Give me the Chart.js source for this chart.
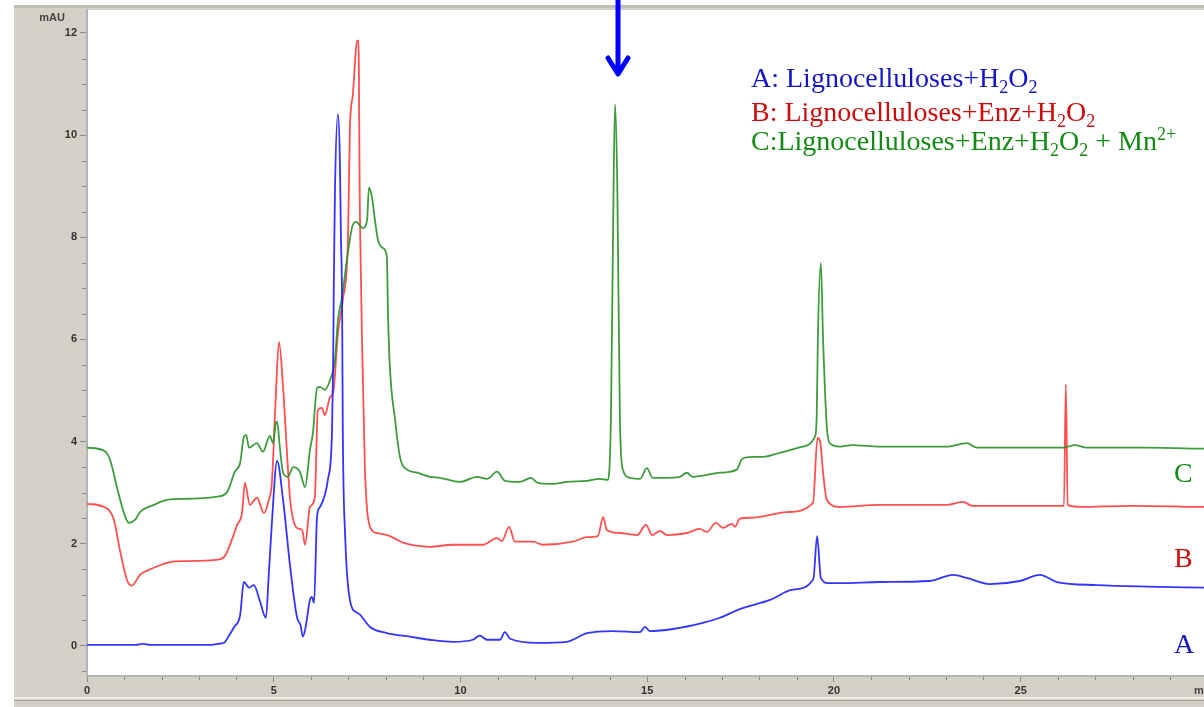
<!DOCTYPE html>
<html>
<head>
<meta charset="utf-8">
<script src="https://cdn.jsdelivr.net/npm/chart.js@4/dist/chart.umd.min.js"></script>
<style>
  html, body { margin: 0; padding: 0; background: #fff; }
  #wrap { position: relative; width: 1204px; height: 707px; overflow: hidden; }
  canvas { display: block; }
</style>
</head>
<body>
<div id="wrap"><canvas id="c" width="1204" height="707"></canvas></div>
<script>
// ---- data (time in min, absorbance in mAU) ----
const seriesA = [[0,0.02],[1.3,0.02],[1.5,0.04],[1.7,0.02],[3.3,0.02],[3.5,0.04],[3.67,0.06],[3.8,0.2],[3.94,0.37],[4.1,0.6],[4.2,1.25],[4.34,1.14],[4.47,1.19],[4.62,0.9],[4.79,0.55],[4.87,1.43],[4.95,2.4],[5.09,3.62],[5.25,2.86],[5.44,1.55],[5.62,0.57],[5.72,0.4],[5.78,0.18],[5.85,0.35],[5.97,0.9],[6.02,0.96],[6.08,0.84],[6.16,2.53],[6.24,2.72],[6.45,3.25],[6.56,4.17],[6.59,5.46],[6.61,7.17],[6.64,8.93],[6.72,10.41],[6.77,9.57],[6.8,8.0],[6.83,6.77],[6.85,4.17],[6.91,2.21],[7.04,0.9],[7.23,0.65],[7.31,0.61],[7.58,0.37],[8.03,0.25],[8.65,0.18],[9.18,0.12],[9.8,0.08],[10.33,0.12],[10.52,0.2],[10.71,0.12],[11.06,0.12],[11.19,0.27],[11.33,0.14],[12.05,0.06],[12.85,0.08],[13.39,0.25],[14.08,0.29],[14.81,0.27],[14.94,0.37],[15.07,0.29],[15.69,0.33],[16.49,0.45],[16.95,0.55],[17.48,0.72],[18.29,0.9],[18.9,1.1],[19.45,1.31],[19.55,2.15],[19.65,1.33],[19.84,1.23],[20.16,1.23],[21.23,1.25],[22.57,1.27],[23.19,1.39],[23.56,1.33],[24.18,1.21],[24.98,1.27],[25.52,1.39],[25.97,1.25],[27.04,1.19],[28.38,1.16],[29.91,1.14]];

const seriesB = [[0,2.78],[0.46,2.72],[0.72,2.47],[0.88,1.88],[1.07,1.29],[1.2,1.18],[1.42,1.39],[1.79,1.53],[2.22,1.64],[2.68,1.66],[3.4,1.68],[3.67,1.74],[3.88,2.08],[4.02,2.37],[4.15,2.6],[4.23,3.19],[4.36,2.76],[4.55,2.9],[4.74,2.6],[4.87,2.86],[4.95,3.19],[5.05,4.8],[5.14,5.95],[5.25,5.07],[5.35,3.84],[5.44,2.86],[5.62,2.31],[5.76,2.27],[5.84,1.98],[5.97,2.72],[6.1,2.9],[6.18,4.62],[6.29,4.66],[6.37,4.52],[6.51,4.87],[6.59,4.95],[6.72,6.13],[6.85,6.77],[6.99,8.0],[7.04,10.16],[7.12,10.8],[7.18,11.47],[7.23,11.85],[7.27,11.85],[7.28,11.3],[7.3,8.99],[7.34,7.03],[7.36,6.13],[7.44,3.5],[7.58,2.33],[7.76,2.21],[8.03,2.17],[8.17,2.13],[8.46,2.02],[9.18,1.94],[9.8,1.98],[10.6,1.98],[10.98,2.11],[11.11,2.05],[11.3,2.33],[11.46,2.04],[11.94,2.04],[12.21,1.98],[13.01,2.04],[13.39,2.13],[13.68,2.15],[13.82,2.52],[13.92,2.27],[14.27,2.21],[14.73,2.17],[14.97,2.37],[15.13,2.17],[15.34,2.25],[15.53,2.17],[16.06,2.21],[16.41,2.29],[16.6,2.23],[16.84,2.41],[17.03,2.31],[17.27,2.39],[17.35,2.33],[17.48,2.49],[17.83,2.51],[18.74,2.62],[19.44,2.8],[19.56,4.07],[19.63,4.0],[19.71,3.39],[19.81,2.86],[20.16,2.72],[21.23,2.76],[23.03,2.76],[23.45,2.82],[23.72,2.74],[26.16,2.74],[26.21,5.12],[26.26,2.76],[26.59,2.72],[27.93,2.74],[29.91,2.72]];

const seriesC = [[0,3.88],[0.46,3.82],[0.62,3.64],[0.8,3.11],[0.99,2.6],[1.12,2.41],[1.29,2.47],[1.42,2.62],[1.79,2.76],[2.14,2.86],[2.68,2.88],[3.48,2.92],[3.75,3.01],[3.96,3.41],[4.1,3.58],[4.2,4.09],[4.26,4.13],[4.34,3.88],[4.55,3.97],[4.71,3.8],[4.9,4.11],[4.98,3.97],[5.06,4.37],[5.09,4.39],[5.17,3.84],[5.25,3.39],[5.38,3.31],[5.52,3.5],[5.7,3.41],[5.84,3.11],[5.97,3.84],[6.05,4.17],[6.16,5.05],[6.24,5.07],[6.37,5.01],[6.51,5.21],[6.64,5.6],[6.72,6.38],[6.83,6.83],[6.96,7.56],[7.1,8.2],[7.2,8.3],[7.39,8.18],[7.5,8.34],[7.55,8.97],[7.63,8.79],[7.71,8.34],[7.79,7.95],[7.92,7.79],[8.03,7.62],[8.06,6.5],[8.11,5.46],[8.25,4.42],[8.38,3.7],[8.57,3.45],[8.84,3.39],[9.18,3.31],[9.45,3.29],[9.99,3.21],[10.44,3.31],[10.71,3.27],[10.98,3.41],[11.19,3.23],[11.59,3.21],[11.89,3.29],[12.07,3.19],[12.48,3.17],[12.85,3.21],[13.39,3.23],[13.73,3.27],[13.95,3.25],[14.03,4.5],[14.1,9.0],[14.14,10.6],[14.2,9.0],[14.27,4.42],[14.35,3.45],[14.54,3.29],[14.81,3.27],[14.99,3.48],[15.15,3.29],[15.42,3.29],[15.88,3.31],[16.06,3.39],[16.22,3.31],[16.95,3.39],[17.4,3.45],[17.54,3.66],[17.83,3.7],[18.1,3.7],[18.55,3.78],[19.17,3.9],[19.49,4.09],[19.54,4.5],[19.57,6.0],[19.65,7.5],[19.71,6.0],[19.81,4.29],[19.89,3.97],[20.16,3.9],[20.48,3.93],[21.23,3.9],[23.03,3.9],[23.56,3.97],[23.83,3.88],[26.13,3.88],[26.45,3.93],[26.77,3.88],[28.38,3.88],[29.91,3.86]];

const yTickValues = [0, 2, 4, 6, 8, 10, 12];
const yMinorValues = [-0.5, 0.5, 1, 1.5, 2.5, 3, 3.5, 4.5, 5, 5.5, 6.5, 7, 7.5, 8.5, 9, 9.5, 10.5, 11, 11.5];
const xTickValues = [0, 5, 10, 15, 20, 25];
const xMinorValues = [1,2,3,4,6,7,8,9,11,12,13,14,16,17,18,19,21,22,23,24,26,27,28,29];
const yUnit = 'mAU';
const xUnit = 'min';
const legendLines = [
  { color: '#1515c8', parts: [['A: Lignocelluloses+H','n'],['2','sub'],['O','n'],['2','sub']] },
  { color: '#cc0c0c', parts: [['B: Lignocelluloses+Enz+H','n'],['2','sub'],['O','n'],['2','sub']] },
  { color: '#138a13', parts: [['C:Lignocelluloses+Enz+H','n'],['2','sub'],['O','n'],['2','sub'],[' + Mn','n'],['2+','sup']] }
];
const traceLabels = [
  { text: 'C', color: '#138a13', y: 3.2 },
  { text: 'B', color: '#cc0c0c', y: 1.55 },
  { text: 'A', color: '#1515c8', y: -0.13 }
];

const toXY = s => s.map(([x, y]) => ({ x, y }));
const SERIF = '"Liberation Serif", "Times New Roman", serif';
const SANS = '"Liberation Sans", Arial, sans-serif';

function drawRich(ctx, x, y, parts, size) {
  let cx = x;
  for (const [t, kind] of parts) {
    let fs = size, dy = 0;
    if (kind === 'sub') { fs = Math.round(size * 0.66); dy = size * 0.2; }
    if (kind === 'sup') { fs = Math.round(size * 0.66); dy = -size * 0.36; }
    ctx.font = fs + 'px ' + SERIF;
    ctx.fillText(t, cx, y + dy);
    cx += ctx.measureText(t).width;
  }
}

const bgPlugin = {
  id: 'bg',
  beforeDraw(chart) {
    const { ctx, chartArea: a, width, height } = chart;
    ctx.save();
    ctx.fillStyle = '#ffffff';
    ctx.fillRect(0, 0, width, height);
    ctx.fillStyle = '#d4d0c8';
    ctx.fillRect(14, 5, width - 14, height - 5);
    ctx.fillStyle = '#c2beb6';
    ctx.fillRect(14, 5, width - 14, 3);
    ctx.fillStyle = '#ffffff';
    ctx.fillRect(a.left, a.top, a.right - a.left, a.bottom - a.top);
    ctx.fillStyle = '#efede8';
    ctx.fillRect(14, 697, width - 14, 2);
    ctx.fillStyle = '#a8a49c';
    ctx.fillRect(14, 700, width - 14, 1);
    ctx.restore();
  }
};

const overlayPlugin = {
  id: 'overlay',
  afterDraw(chart) {
    const { ctx, scales } = chart;
    const xs = scales.x, ys = scales.y;
    ctx.save();
    // minor ticks
    ctx.strokeStyle = '#8a8a8a';
    ctx.lineWidth = 1;
    ctx.beginPath();
    for (const v of yMinorValues) {
      const py = Math.round(ys.getPixelForValue(v)) + 0.5;
      ctx.moveTo(82, py); ctx.lineTo(86, py);
    }
    for (const v of xMinorValues) {
      const px = Math.round(xs.getPixelForValue(v)) + 0.5;
      ctx.moveTo(px, 677); ctx.lineTo(px, 680);
    }
    ctx.stroke();
    // axis units
    ctx.fillStyle = '#444';
    ctx.font = 'bold 11px ' + SANS;
    ctx.textAlign = 'center';
    ctx.textBaseline = 'middle';
    ctx.fillText(yUnit, 52, 18);
    ctx.textAlign = 'left';
    ctx.fillText(xUnit, 1194, 691);
    // legend text
    ctx.textBaseline = 'alphabetic';
    const baselines = [87, 121, 150];
    legendLines.forEach((l, i) => {
      ctx.fillStyle = l.color;
      drawRich(ctx, 751, baselines[i], l.parts, 28);
    });
    // trace labels
    ctx.font = '28px ' + SERIF;
    for (const t of traceLabels) {
      ctx.fillStyle = t.color;
      ctx.fillText(t.text, 1174, ys.getPixelForValue(t.y));
    }
    // arrow pointing at the new peak
    const ax = Math.round(xs.getPixelForValue(14.14)) + 3;
    ctx.strokeStyle = '#0000ff';
    ctx.lineWidth = 5;
    ctx.lineCap = 'round';
    ctx.lineJoin = 'round';
    ctx.beginPath();
    ctx.moveTo(ax, -5); ctx.lineTo(ax, 72);
    ctx.moveTo(ax - 10, 58); ctx.lineTo(ax, 74); ctx.lineTo(ax + 10, 58);
    ctx.stroke();
    ctx.restore();
  }
};

const lineDs = (label, data, color) => ({
  label, data: toXY(data), borderColor: color, borderWidth: 1.8,
  pointRadius: 0, cubicInterpolationMode: 'monotone', fill: false
});

new Chart(document.getElementById('c'), {
  type: 'line',
  data: {
    datasets: [
      lineDs('A', seriesA, 'rgba(30,30,255,0.9)'),
      lineDs('C', seriesC, 'rgba(40,145,40,0.9)'),
      lineDs('B', seriesB, 'rgba(255,60,60,0.9)')
    ]
  },
  options: {
    responsive: false,
    devicePixelRatio: 1,
    animation: false,
    layout: { padding: { left: 0, right: 0, top: 10, bottom: 0 } },
    plugins: { legend: { display: false }, tooltip: { enabled: false } },
    scales: {
      x: {
        type: 'linear', min: 0, max: 29.91,
        afterFit: s => { s.height = 31; },
        afterBuildTicks: s => { s.ticks = xTickValues.map(v => ({ value: v })); },
        grid: { drawOnChartArea: false, drawTicks: true, tickLength: 6, color: '#8a8a8a' },
        border: { display: true, color: '#b4b4b4', width: 2 },
        ticks: { color: '#333', font: { family: SANS, size: 11, weight: 'bold' }, padding: 2, maxRotation: 0, autoSkip: false }
      },
      y: {
        type: 'linear', min: -0.59, max: 12.45,
        afterFit: s => { s.width = 87; },
        afterBuildTicks: s => { s.ticks = yTickValues.map(v => ({ value: v })); },
        grid: { drawOnChartArea: false, drawTicks: true, tickLength: 7, color: '#8a8a8a' },
        border: { display: true, color: '#b4b4b4', width: 2 },
        ticks: { color: '#333', font: { family: SANS, size: 11, weight: 'bold' }, padding: 3, autoSkip: false }
      }
    }
  },
  plugins: [bgPlugin, overlayPlugin]
});
</script>
</body>
</html>
